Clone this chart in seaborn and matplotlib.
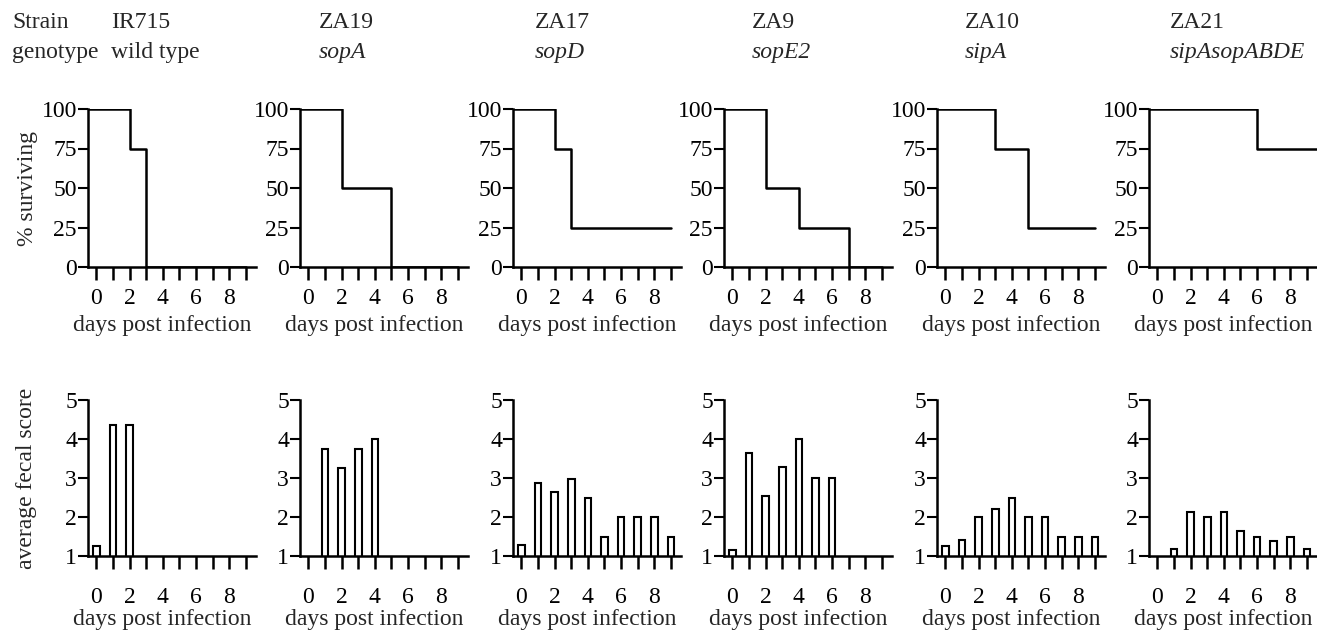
import numpy as np
import pandas as pd
import matplotlib
matplotlib.use("Agg")
import matplotlib.pyplot as plt
import seaborn as sns

# ---------------- data ----------------
days = list(range(10))
tick_labels = ["0", "", "2", "", "4", "", "6", "", "8", ""]

strains = ["IR715", "ZA19", "ZA17", "ZA9", "ZA10", "ZA21"]
genotypes = ["wild type", "sopA", "sopD", "sopE2", "sipA", "sipAsopABDE"]
genotype_italic = [False, True, True, True, True, True]

# survival: day of each change and % surviving from that day on
surv_days_IR715 = [0, 2, 3]
surv_pct_IR715 = [100, 75, 0]
surv_days_ZA19 = [0, 2, 5]
surv_pct_ZA19 = [100, 50, 0]
surv_days_ZA17 = [0, 2, 3]
surv_pct_ZA17 = [100, 75, 25]
surv_days_ZA9 = [0, 2, 4, 7]
surv_pct_ZA9 = [100, 50, 25, 0]
surv_days_ZA10 = [0, 3, 5]
surv_pct_ZA10 = [100, 75, 25]
surv_days_ZA21 = [0, 6]
surv_pct_ZA21 = [100, 75]
surv_last_day = [9, 9, 9, 9, 9, 9.6]

nan = np.nan
fecal_IR715 = [1.25, 4.35, 4.35, nan, nan, nan, nan, nan, nan, nan]
fecal_ZA19 = [nan, 3.75, 3.25, 3.75, 4.0, nan, nan, nan, nan, nan]
fecal_ZA17 = [1.28, 2.86, 2.65, 2.97, 2.48, 1.48, 2.0, 2.0, 2.0, 1.5]
fecal_ZA9 = [1.15, 3.63, 2.53, 3.27, 4.0, 3.0, 3.0, nan, nan, nan]
fecal_ZA10 = [1.26, 1.4, 2.0, 2.2, 2.5, 2.0, 2.0, 1.5, 1.5, 1.5]
fecal_ZA21 = [nan, 1.17, 2.13, 2.0, 2.14, 1.65, 1.5, 1.38, 1.5, 1.17]

surv_days_all = [surv_days_IR715, surv_days_ZA19, surv_days_ZA17,
                 surv_days_ZA9, surv_days_ZA10, surv_days_ZA21]
surv_pct_all = [surv_pct_IR715, surv_pct_ZA19, surv_pct_ZA17,
                surv_pct_ZA9, surv_pct_ZA10, surv_pct_ZA21]
fecal_all = [fecal_IR715, fecal_ZA19, fecal_ZA17, fecal_ZA9, fecal_ZA10, fecal_ZA21]

surv_ticks = [0, 25, 50, 75, 100]
fecal_ticks = [1, 2, 3, 4, 5]

# ---------------- style ----------------
sns.set_theme(style="ticks")
plt.rcParams["font.family"] = ["Liberation Serif", "DejaVu Serif"]
FS = 17
plt.rcParams["font.size"] = FS

W, H = 1317, 633
fig = plt.figure(figsize=(W / 100, H / 100), dpi=100)

lefts_px = [88, 300, 513, 724, 937, 1149]
ax_w_px = 168
top_row = (109, 267)     # pixel y of top and bottom of axes
bot_row = (400, 556)
header_x_px = [111, 319, 535, 752, 965, 1170]

XLIM = (-0.5, 9.6)
LW = 1.8
XLAB_X = 0.5 - 10 / ax_w_px


def style_axis(ax, xpad, ylabelpad=1):
    sns.despine(ax=ax)
    for s in ["left", "bottom"]:
        ax.spines[s].set_linewidth(LW)
        ax.spines[s].set_color("black")
    ax.set_xlim(*XLIM)
    ax.set_xticks(days)
    ax.set_xticklabels(tick_labels, fontsize=FS)
    ax.tick_params(axis="x", direction="out", length=9, width=1.8,
                   color="black", pad=xpad, labelcolor="black")
    ax.tick_params(axis="y", direction="out", length=7, width=1.5,
                   color="black", pad=ylabelpad, labelsize=FS, labelcolor="black")
    ax.set_facecolor("white")
    ax.grid(False)


for i, strain in enumerate(strains):
    left = lefts_px[i] / W
    width = ax_w_px / W

    # ---- survival ----
    ax = fig.add_axes([left, 1 - top_row[1] / H, width,
                       (top_row[1] - top_row[0]) / H])
    style_axis(ax, xpad=6)
    ax.set_ylim(0, 100)
    ax.set_yticks(surv_ticks)
    x0 = XLIM[0]
    xs = [x0] + surv_days_all[i][1:] + [surv_last_day[i]]
    ys = [surv_pct_all[i][0]] + surv_pct_all[i][1:] + [surv_pct_all[i][-1]]
    sdf = pd.DataFrame({"day": xs, "pct": ys})
    sns.lineplot(data=sdf, x="day", y="pct", drawstyle="steps-post",
                 color="black", linewidth=LW, ax=ax, sort=False)
    ax.set_xlim(*XLIM)
    ax.set_ylim(0, 100)
    ax.set_xlabel("days post infection", fontsize=FS, va="center")
    ax.xaxis.set_label_coords(XLAB_X, (top_row[1] - 326) / (top_row[1] - top_row[0]))
    if i == 0:
        ax.set_ylabel("% surviving", fontsize=FS, va="center")
        ax.yaxis.set_label_coords((27 - lefts_px[0]) / ax_w_px, 0.5)
    else:
        ax.set_ylabel("")

    # ---- fecal score ----
    ax2 = fig.add_axes([left, 1 - bot_row[1] / H, width,
                        (bot_row[1] - bot_row[0]) / H])
    fdf = pd.DataFrame({"day": days, "score": fecal_all[i]}).dropna()
    sns.barplot(data=fdf, x="day", y="score", order=days, color="white",
                saturation=1, edgecolor="black", linewidth=1.5, width=0.4,
                errorbar=None, ax=ax2)
    style_axis(ax2, xpad=13)
    ax2.set_ylim(1, 5)
    ax2.set_yticks(fecal_ticks)
    ax2.set_yticklabels([str(t) for t in fecal_ticks])
    ax2.set_xlabel("days post infection", fontsize=FS, va="center")
    ax2.xaxis.set_label_coords(XLAB_X, (bot_row[1] - 620) / (bot_row[1] - bot_row[0]))
    if i == 0:
        ax2.set_ylabel("average fecal score", fontsize=FS, va="center")
        ax2.yaxis.set_label_coords((27 - lefts_px[0]) / ax_w_px, 0.5)
    else:
        ax2.set_ylabel("")

    # ---- headers ----
    fig.text(header_x_px[i] / W, 1 - 28 / H, strain, fontsize=FS,
             ha="left", va="baseline")
    fig.text(header_x_px[i] / W, 1 - 58 / H, genotypes[i], fontsize=FS,
             ha="left", va="baseline",
             style="italic" if genotype_italic[i] else "normal")

fig.text(12 / W, 1 - 28 / H, "Strain", fontsize=FS, ha="left", va="baseline")
fig.text(12 / W, 1 - 58 / H, "genotype", fontsize=FS, ha="left", va="baseline")

fig.savefig("out.png", dpi=100, facecolor="white")
